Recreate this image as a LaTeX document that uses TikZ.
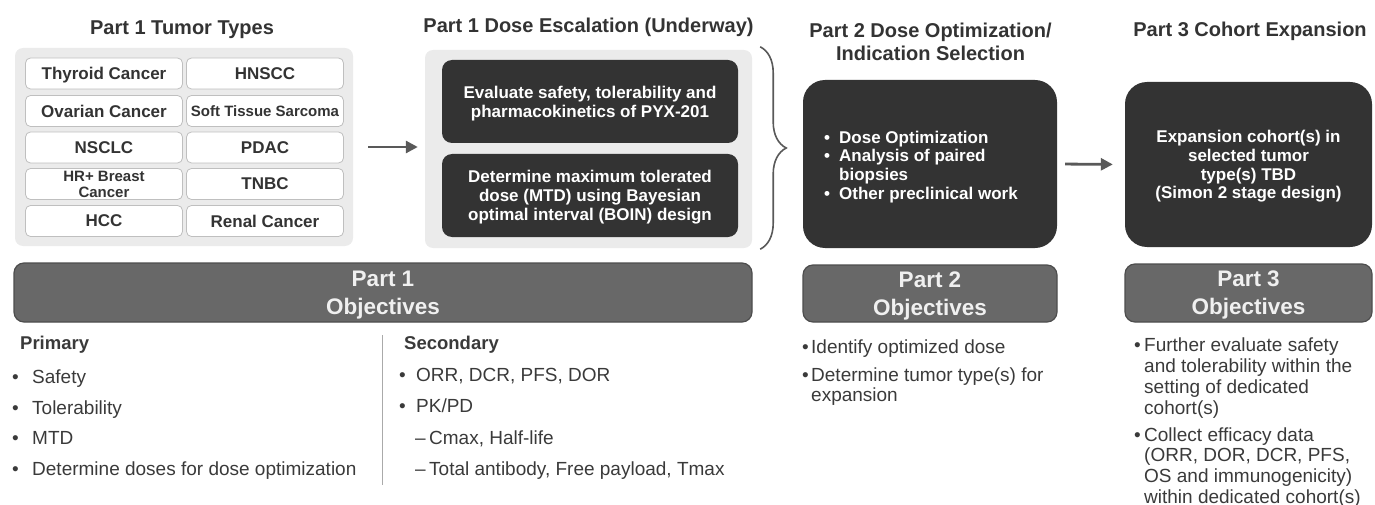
\documentclass[tikz,border=0pt]{standalone}
\usepackage{fontspec}
\setmainfont{Liberation Sans}
\usetikzlibrary{arrows.meta,decorations.pathreplacing}
\definecolor{txt}{HTML}{333333}
\definecolor{dark}{HTML}{333333}
\definecolor{panel}{HTML}{EBEBEB}
\definecolor{bar}{HTML}{686868}
\definecolor{barline}{HTML}{4D4D4D}
\definecolor{cellline}{HTML}{BFBFBF}
\definecolor{arrowc}{HTML}{595959}
\definecolor{body}{HTML}{3A3A3A}
\definecolor{divc}{HTML}{AAAAAA}
\begin{document}
\begin{tikzpicture}[x=1pt,y=-1pt,
  title/.style={font=\fontsize{20}{23}\bfseries\selectfont, text=txt, align=center, inner sep=0},
  panelbox/.style={fill=panel, rounded corners=8pt, inner sep=0},
  cell/.style={draw=cellline, line width=0.8pt, fill=white, rounded corners=5pt, minimum width=157pt, minimum height=31pt, inner sep=0, font=\fontsize{17}{17}\bfseries\selectfont, text=txt, align=center, text depth=0pt},
  darkbox/.style={fill=dark, text=white, inner sep=0, font=\fontsize{17}{18.7}\bfseries\selectfont, align=center, text depth=0pt},
  objbar/.style={fill=bar, draw=barline, line width=1.2pt, rounded corners=10pt, text=white!94!black, inner sep=0, font=\fontsize{22.5}{28}\bfseries\selectfont, align=center, text depth=0pt},
  bodytext/.style={text=body, inner sep=0, align=left, anchor=north west, font=\fontsize{19}{30.5}\selectfont},
  flow/.style={draw=arrowc, line width=2.8pt, -{Triangle[length=12pt,width=12pt]}},
]
\useasboundingbox (0,0) rectangle (1375,505);

% titles
\node[title, anchor=base] (t1) at (182,35) {Part 1 Tumor Types};
\node[title, anchor=base] (t2) at (588.5,33) {Part 1 Dose Escalation (Underway)};
\node[title] (t3) at (930.5,42) {Part 2 Dose Optimization/\\Indication Selection};
\node[title, anchor=base] (t4) at (1250,37) {Part 3 Cohort Expansion};

% tumor types panel
\node[panelbox, minimum width=338pt, minimum height=198pt] (tpanel) at (184,147) {};
\node[cell] (c11) at (104,73.5) {Thyroid Cancer};
\node[cell] (c12) at (265,73.5) {HNSCC};
\node[cell] (c21) at (104,111) {Ovarian Cancer};
\node[cell, font=\fontsize{15}{15}\bfseries\selectfont] (c22) at (265,111) {Soft Tissue Sarcoma};
\node[cell] (c31) at (104,147.5) {NSCLC};
\node[cell] (c32) at (265,147.5) {PDAC};
\node[cell, font=\fontsize{15}{16}\bfseries\selectfont] (c41) at (104,184) {HR+ Breast\\Cancer};
\node[cell] (c42) at (265,184) {TNBC};
\node[cell] (c51) at (104,221) {HCC};
\node[cell] (c52) at (265,221) {Renal Cancer};

% dose escalation panel
\node[panelbox, minimum width=327pt, minimum height=198pt] (dpanel) at (588.5,149) {};
\node[darkbox, rounded corners=10pt, minimum width=296pt, minimum height=83pt] (d1) at (590,101.5) {Evaluate safety, tolerability and\\pharmacokinetics of PYX-201};
\node[darkbox, rounded corners=10pt, minimum width=296pt, minimum height=83pt] (d2) at (590,195.5) {Determine maximum tolerated\\dose (MTD) using Bayesian\\optimal interval (BOIN) design};

% brace
\draw[draw=arrowc, line width=1.6pt, decorate, decoration={brace, amplitude=26pt}]
  ([xshift=8pt,yshift=3pt]dpanel.north east) -- ([xshift=8pt,yshift=-1pt]dpanel.south east);

% part 2 box
\node[darkbox, rounded corners=22pt, minimum width=254pt, minimum height=168pt] (p2) at (930,164) {};
\node[text=white, inner sep=0, font=\fontsize{17}{18.7}\bfseries\selectfont, align=left, anchor=west, text depth=0pt] (p2txt) at (824,165)
  {\makebox[15pt][l]{•}Dose Optimization\\\makebox[15pt][l]{•}Analysis of paired\\\hspace*{15pt}biopsies\\\makebox[15pt][l]{•}Other preclinical work};

% part 3 box
\node[darkbox, rounded corners=22pt, minimum width=247pt, minimum height=165pt] (p3) at (1248.5,164.5) {Expansion cohort(s) in\\selected tumor\\type(s) TBD\\(Simon 2 stage design)};

% arrows
\draw[flow, shorten <=15pt, shorten >=7pt] (tpanel.east) -- (tpanel.east -| dpanel.west);
\draw[flow, shorten <=8pt, shorten >=12pt] (p2.east) -- (p3.west);

% objective bars
\node[objbar, minimum width=738pt, minimum height=59pt] (b1) at (383,292.5) {Part 1\\Objectives};
\node[objbar, minimum width=254pt, minimum height=57pt] (b2) at (930,293.5) {Part 2\\Objectives};
\node[objbar, minimum width=247pt, minimum height=58pt] (b3) at (1248.5,293) {Part 3\\Objectives};

% primary / secondary
\node[bodytext] (prim) at (12,336) {\hspace*{8pt}{\fontsize{18.5}{18.5}\bfseries\selectfont Primary}\\[3.5pt]
  \makebox[20pt][l]{•}Safety\\
  \makebox[20pt][l]{•}Tolerability\\
  \makebox[20pt][l]{•}MTD\\
  \makebox[20pt][l]{•}Determine doses for dose optimization};
\coordinate (dv1) at (382,335);
\coordinate (dv2) at (382,485);
\draw[draw=divc, line width=1pt] (dv1) -- (dv2);
\node[bodytext, font=\fontsize{19}{31.5}\selectfont] (sec) at (399,336) {\hspace*{5pt}{\fontsize{18.5}{18.5}\bfseries\selectfont Secondary}\\
  \makebox[17pt][l]{•}ORR, DCR, PFS, DOR\\
  \makebox[17pt][l]{•}PK/PD\\
  \hspace*{16pt}\makebox[14pt][l]{–}Cmax, Half-life\\
  \hspace*{16pt}\makebox[14pt][l]{–}Total antibody, Free payload, Tmax};

% part 2 objectives
\node[bodytext, font=\fontsize{19}{20.5}\selectfont] (o2) at (802,339.5)
  {\makebox[9pt][l]{•}Identify optimized dose\\[7.5pt]
   \makebox[9pt][l]{•}Determine tumor type(s) for\\
   \hspace*{9pt}expansion};

% part 3 objectives
\node[bodytext, font=\fontsize{19}{20.8}\selectfont] (o3) at (1134,338)
  {\makebox[10pt][l]{•}Further evaluate safety\\
   \hspace*{10pt}and tolerability within the\\
   \hspace*{10pt}setting of dedicated\\
   \hspace*{10pt}cohort(s)\\[6pt]
   \makebox[10pt][l]{•}Collect efficacy data\\
   \hspace*{10pt}(ORR, DOR, DCR, PFS,\\
   \hspace*{10pt}OS and immunogenicity)\\
   \hspace*{10pt}within dedicated cohort(s)};
\end{tikzpicture}
\end{document}
